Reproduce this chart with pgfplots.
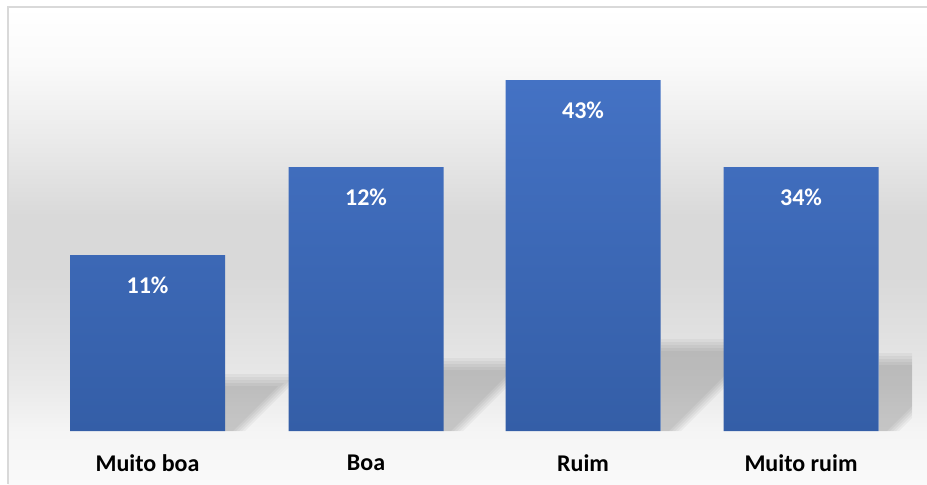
\documentclass[border=0pt]{standalone}
\usepackage{pgfplots}
\pgfplotsset{compat=1.18}
\usepackage{fontspec}
\setmainfont{Carlito}
\definecolor{barTop}{RGB}{68,114,196}
\definecolor{barBot}{RGB}{52,94,167}
\definecolor{frameC}{RGB}{217,217,217}
\pgfdeclareverticalshading{bgshade}{100bp}{%
 color(0bp)=(white!98!black);
 color(25bp)=(white!98!black);
 color(30.5bp)=(white!96!black);
 color(36bp)=(white!91!black);
 color(41bp)=(white!88!black);
 color(47bp)=(white!85!black);
 color(53bp)=(white!85!black);
 color(60bp)=(white!91!black);
 color(69bp)=(white!98!black);
 color(75bp)=(white);
 color(100bp)=(white)}
\pgfplotsset{shad/.style={draw=none, fill=black, fill opacity=0.04}}
\begin{document}
\begin{tikzpicture}
\begin{axis}[
  name=ax,
  width=463.5pt, height=242pt, scale only axis,
  xmin=0, xmax=927, ymin=-53, ymax=431,
  hide axis, clip=false,
]
\shade[shading=bgshade] (axis cs:8,-53) rectangle (axis cs:927,424);
\draw[frameC, line width=1pt] (axis cs:8,-53) -- (axis cs:8,424) -- (axis cs:927,424);
% soft shadows cast by the bars (layered for a blurred edge)
\addplot[shad] coordinates {(225,0) (225,57) (302,57) (245,0)} -- cycle;
\addplot[shad] coordinates {(225,0) (225,54) (296,54) (242,0)} -- cycle;
\addplot[shad] coordinates {(225,0) (225,51) (290,51) (239,0)} -- cycle;
\addplot[shad] coordinates {(225,0) (225,48) (284,48) (236,0)} -- cycle;
\addplot[shad] coordinates {(225,0) (225,45) (278,45) (233,0)} -- cycle;
\addplot[shad] coordinates {(443,0) (443,73) (536,73) (463,0)} -- cycle;
\addplot[shad] coordinates {(443,0) (443,70) (530,70) (460,0)} -- cycle;
\addplot[shad] coordinates {(443,0) (443,67) (524,67) (457,0)} -- cycle;
\addplot[shad] coordinates {(443,0) (443,64) (518,64) (454,0)} -- cycle;
\addplot[shad] coordinates {(443,0) (443,61) (512,61) (451,0)} -- cycle;
\addplot[shad] coordinates {(661,0) (661,92) (773,92) (681,0)} -- cycle;
\addplot[shad] coordinates {(661,0) (661,89) (767,89) (678,0)} -- cycle;
\addplot[shad] coordinates {(661,0) (661,86) (761,86) (675,0)} -- cycle;
\addplot[shad] coordinates {(661,0) (661,83) (755,83) (672,0)} -- cycle;
\addplot[shad] coordinates {(661,0) (661,80) (749,80) (669,0)} -- cycle;
\addplot[shad] coordinates {(879,0) (879,78) (912,78) (912,13) (899,0)} -- cycle;
\addplot[shad] coordinates {(879,0) (879,75) (912,75) (912,16) (896,0)} -- cycle;
\addplot[shad] coordinates {(879,0) (879,72) (912,72) (912,19) (893,0)} -- cycle;
\addplot[shad] coordinates {(879,0) (879,69) (912,69) (912,22) (890,0)} -- cycle;
\addplot[shad] coordinates {(879,0) (879,66) (912,66) (912,25) (887,0)} -- cycle;
\addplot[ybar, bar width=155, draw=none, top color=barTop, bottom color=barBot,
  nodes near coords, point meta=explicit symbolic,
  every node near coord/.style={anchor=center, yshift=-15pt, text=white, font=\fontsize{12pt}{14pt}\selectfont\bfseries}]
  table[meta=label] {
x y label
147.5 176 11\%
366 264 12\%
583 351 43\%
801 264 34\%
};
\addplot[draw=none, mark=none, nodes near coords, point meta=explicit symbolic,
  every node near coord/.style={anchor=center, text=black, font=\fontsize{12pt}{14pt}\selectfont\bfseries}]
  table[meta=label, col sep=comma] {
x,y,label
147.5,-32,Muito boa
366,-32,Boa
583,-32,Ruim
801,-32,Muito ruim
};
\end{axis}
\pgfresetboundingbox
\useasboundingbox (ax.south west) rectangle (ax.north east);
\end{tikzpicture}
\end{document}
